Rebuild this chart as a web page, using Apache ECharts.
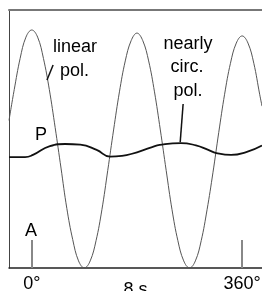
<!DOCTYPE html>
<html>
<head>
<meta charset="utf-8">
<script src="https://cdn.jsdelivr.net/npm/echarts@6/dist/echarts.min.js"></script>
<style>html,body{margin:0;padding:0;background:#fff;}#c{width:262px;height:291px;}</style>
</head>
<body>
<div id="c"></div>
<script>
// angle (degrees) and relative intensity
var linearAngles = [-39,-30,-20,-10,0,10,20,30,40,50,60,70,80,90,100,110,120,130,140,150,160,170,180,190,200,210,220,230,240,250,260,270,280,290,300,310,320,330,340,350,360,370,380,390,394];
var linearValues = [0.62,0.75,0.88,0.97,1.00,0.97,0.88,0.75,0.59,0.42,0.25,0.12,0.03,0.00,0.03,0.115,0.245,0.41,0.58,0.74,0.87,0.955,0.987,0.955,0.87,0.74,0.58,0.41,0.245,0.115,0.03,0.00,0.03,0.115,0.245,0.40,0.57,0.73,0.86,0.945,0.975,0.945,0.86,0.73,0.68];
var circAngles = [-39,-11.5,2,31,57,83,111,134,154,170,206,219,255,281,302,316,341,367,394];
var circValues = [0.466,0.466,0.475,0.512,0.521,0.518,0.496,0.468,0.471,0.479,0.508,0.517,0.525,0.515,0.496,0.483,0.475,0.487,0.515];
var tickLabels = [0, 360];
var markerAngles = [0, 360];
var markerHeight = 0.118;
var axisName = '8 s';

function pairs(xs, ys){ return xs.map(function(x,i){ return [x, ys[i]]; }); }

var FONT = "'Liberation Sans', Arial, sans-serif";
var chart = echarts.init(document.getElementById('c'), null, {renderer:'canvas'});
chart.setOption({
  animation: false,
  grid: {left: 9, right: 0, top: 10, bottom: 23, containLabel: false, outerBoundsMode: 'none'},
  xAxis: [{
    type: 'value', min: -39, max: 394, position: 'bottom',
    axisLine: {show: true, onZero: false, lineStyle: {color: '#222', width: 1.5}},
    axisTick: {show: false},
    splitLine: {show: false},
    axisLabel: {customValues: tickLabels, formatter: function(v){ return v + '°'; },
      fontSize: 18, color: '#000', fontFamily: FONT, margin: 7},
    name: axisName, nameLocation: 'middle', nameGap: 13, nameMoveOverlap: false,
    nameTextStyle: {fontSize: 18, color: '#000', fontFamily: FONT}
  }, {
    type: 'value', min: -39, max: 394, position: 'top',
    axisLine: {show: true, onZero: false, lineStyle: {color: '#777', width: 2}},
    axisTick: {show: false}, axisLabel: {show: false}, splitLine: {show: false}
  }],
  yAxis: {
    type: 'value', min: 0, max: 1.084, position: 'left',
    axisLine: {show: true, onZero: false, lineStyle: {color: '#444', width: 1}},
    axisTick: {show: false}, axisLabel: {show: false}, splitLine: {show: false}
  },
  series: [{
    name: 'linear pol.', type: 'line', showSymbol: false, smooth: 0.4,
    data: pairs(linearAngles, linearValues),
    lineStyle: {color: '#555', width: 1},
    markLine: {
      silent: true, symbol: 'none', label: {show: false},
      lineStyle: {color: '#888', width: 2, type: 'solid'},
      data: markerAngles.map(function(a){ return [{coord: [a, 0]}, {coord: [a, markerHeight]}]; })
        .concat([[{coord: [26, 0.79], lineStyle: {color: '#111', width: 1.5}}, {coord: [36.5, 0.853]}]])
    }
  }, {
    name: 'nearly circ. pol.', type: 'line', showSymbol: false, smooth: 0.5,
    data: pairs(circAngles, circValues),
    lineStyle: {color: '#111', width: 1.8},
    markLine: {
      silent: true, symbol: 'none', label: {show: false},
      lineStyle: {color: '#111', width: 1.5, type: 'solid'},
      data: [[{coord: [259, 0.689]}, {coord: [254, 0.529]}]]
    }
  }],
  graphic: [
    {type: 'text', left: 53, top: 38, style: {text: 'linear', fontSize: 18, fontFamily: FONT, fill: '#000'}},
    {type: 'text', left: 60, top: 62, style: {text: 'pol.', fontSize: 18, fontFamily: FONT, fill: '#000'}},
    {type: 'text', x: 188, y: 35, style: {text: 'nearly', align: 'center', verticalAlign: 'top', fontSize: 18, fontFamily: FONT, fill: '#000'}},
    {type: 'text', x: 187, y: 58, style: {text: 'circ.', align: 'center', verticalAlign: 'top', fontSize: 18, fontFamily: FONT, fill: '#000'}},
    {type: 'text', x: 188, y: 82, style: {text: 'pol.', align: 'center', verticalAlign: 'top', fontSize: 18, fontFamily: FONT, fill: '#000'}},
    {type: 'text', left: 35, top: 126, style: {text: 'P', fontSize: 18, fontFamily: FONT, fill: '#000'}},
    {type: 'text', left: 25, top: 222, style: {text: 'A', fontSize: 18, fontFamily: FONT, fill: '#000'}}
  ]
});
</script>
</body>
</html>
